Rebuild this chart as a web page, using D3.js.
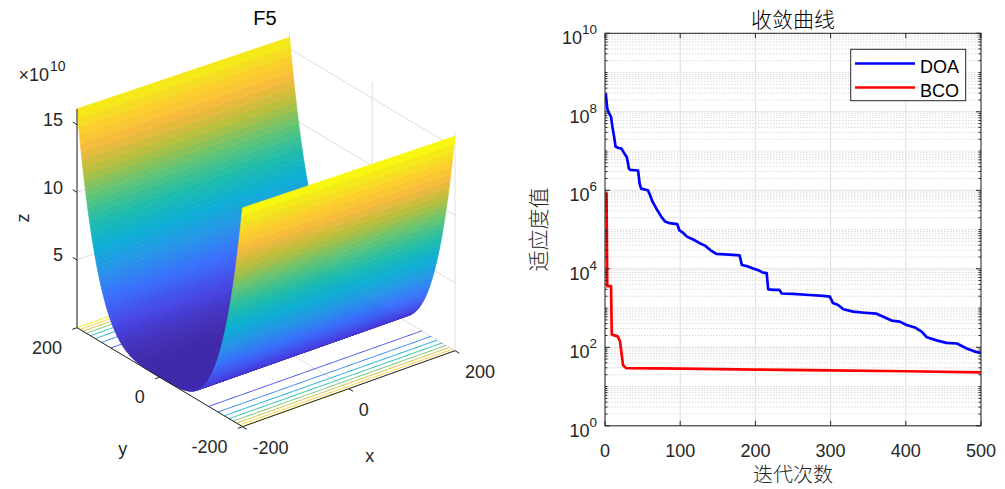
<!DOCTYPE html>
<html>
<head>
<meta charset="utf-8">
<script src="https://cdn.jsdelivr.net/npm/d3@7"></script>
<style>
  html, body { margin: 0; padding: 0; background: #fff; }
  svg { display: block; font-family: "Liberation Sans", Arial, Helvetica, sans-serif; }
</style>
</head>
<body>
<svg id="chart" width="1005" height="489"></svg>
<script>
// ---------------- data ----------------

// F5 surface: grid used by surfc (x=-200:2:200, y=x)
var surfX = d3.range(-200, 201, 2);
var surfY = d3.range(-200, 201, 2);
var gridTicks3d = [-200, 0, 200];
var zTicks = [5e10, 10e10, 15e10];
var zTickLabels = ['5', '10', '15'];
var contourLevels = [2e10, 4e10, 6e10, 8e10, 10e10, 12e10, 14e10, 16e10];

// F5 (Rosenbrock), f(i,j)=F5([x(i),y(j)]) shown by surfc(x,y,f) -> z(X,Y)=F5(Y,X)
function F5(x1, x2) { return 100 * Math.pow(x2 - x1 * x1, 2) + Math.pow(x1 - 1, 2); }
function zAt(X, Y) { return F5(Y, X); }

// convergence curves
var iterTicks = [0, 100, 200, 300, 400, 500];
var fitTickExp = [0, 2, 4, 6, 8, 10];
var seriesNames = ['DOA', 'BCO'];

var doaIter = [1, 3, 5, 8, 10, 12, 14, 18, 22, 26, 29, 32, 34, 44, 46, 48, 57, 60, 63, 68, 75, 80, 86, 96, 99,
  104, 109, 118, 126, 133, 140, 148, 165, 179, 182, 190, 197, 205, 210, 215, 217, 225, 232, 235, 250, 272, 290,
  299, 303, 310, 317, 330, 345, 361, 370, 381, 392, 401, 412, 421, 428, 441, 454, 468, 481, 490, 500];
var doaFit = [2.9e8, 1.2e8, 9.5e7, 7.4e7, 4.0e7, 2.4e7, 1.3e7, 1.2e7, 1.15e7, 8.5e6, 7.0e6, 3.5e6, 3.3e6, 3.2e6,
  1.5e6, 1.1e6, 1.0e6, 7.5e5, 5.2e5, 3.5e5, 2.1e5, 1.6e5, 1.45e5, 1.38e5, 9.5e4,
  8.2e4, 6.6e4, 5.5e4, 4.5e4, 3.9e4, 3.0e4, 2.4e4, 2.3e4, 2.2e4, 1.25e4, 1.15e4, 1.02e4, 9.0e3, 8.0e3, 7.8e3,
  3.0e3, 2.9e3, 2.9e3, 2.35e3, 2.3e3, 2.15e3, 2.05e3,
  1.95e3, 1.35e3, 1.2e3, 930, 810, 760, 720, 600, 480, 450, 370, 320, 250, 180, 150, 130, 125, 93, 80, 71];

var bcoIter = [1, 2, 3, 8, 9, 17, 20, 24, 28, 100, 200, 300, 400, 500];
var bcoFit = [8.3e5, 8.3e5, 3.6e3, 3.6e3, 2.1e2, 1.9e2, 1.4e2, 35, 29.5, 28.5, 27, 25.7, 24.5, 23];

// ---------------- styles ----------------
var axisColor = '#262626';
var gridColor = '#dfdfdf';
var seriesColors = ['#0000ff', '#ff0000'];
var parulaStops = [0, 0.1, 0.2, 0.3, 0.4, 0.5, 0.6, 0.7, 0.8, 0.87, 0.94, 1];
var parulaColors = ['#3e26a8', '#4745e6', '#3a6ffc', '#2795e8', '#0db0d4', '#20bdaa', '#5fc577',
  '#b4bf3e', '#f8ba3d', '#fcce2e', '#f4e51d', '#f9fb0e'];

var svg = d3.select('#chart');

//--- F5 surface (left) ---------------------------------------------------------------

var left = svg.append('g').attr('id', 'surfPlot');

var zGrid = surfY.map(function (Y) { return surfX.map(function (X) { return zAt(X, Y); }); });
var zMin = d3.min(zGrid, function (r) { return d3.min(r); });
var zMax = d3.max(zGrid, function (r) { return d3.max(r); });

var sx = d3.scaleLinear().domain([-200, 200]).range([0, 1]);
var sy = d3.scaleLinear().domain([-200, 200]).range([0, 1]);
var sz = d3.scaleLinear().domain([zMin, zMax]).range([0, 1]);

// screen vectors of the box edges (az -37.5, el 30 view)
var P0 = [242.5, 426.7], EX = [212.5, -76], EY = [-165.5, -99], EZ = [0, -218.8];

function projN(a, b, c) {
    return [P0[0] + a * EX[0] + b * EY[0] + c * EZ[0], P0[1] + a * EX[1] + b * EY[1] + c * EZ[1]];
}
function proj(X, Y, Z) { return projN(sx(X), sy(Y), sz(Z)); }

// view direction = kernel of the projection, pointing to the camera (above)
var r1 = [EX[0], EY[0], EZ[0]], r2 = [EX[1], EY[1], EZ[1]];
var kv = [r1[1] * r2[2] - r1[2] * r2[1], r1[2] * r2[0] - r1[0] * r2[2], r1[0] * r2[1] - r1[1] * r2[0]];
if (kv[2] < 0) { kv = kv.map(function (d) { return -d; }); }
function camDepth(a, b, c) { return kv[0] * a + kv[1] * b + kv[2] * c; }

var cnorm = d3.scaleLinear().domain([zMin, zMax]).range([0, 1]).clamp(true);
var parula = d3.scaleLinear().domain(parulaStops).range(parulaColors).interpolate(d3.interpolateRgb);

var line2 = d3.line();

function seg(p, q, col, w, dash) {
    left.append('line')
        .attr('x1', p[0]).attr('y1', p[1]).attr('x2', q[0]).attr('y2', q[1])
        .attr('stroke', col).attr('stroke-width', w || 1)
        .attr('stroke-dasharray', dash || null);
}

// back walls + floor grid
gridTicks3d.forEach(function (t) {
    // floor
    seg(proj(t, -200, zMin), proj(t, 200, zMin), gridColor);
    seg(proj(-200, t, zMin), proj(200, t, zMin), gridColor);
    // wall y = 200 (vertical lines at x ticks)
    seg(proj(t, 200, zMin), proj(t, 200, zMax), gridColor);
    // wall x = 200 (vertical lines at y ticks)
    seg(proj(200, t, zMin), proj(200, t, zMax), gridColor);
});
zTicks.forEach(function (z) {
    seg(proj(-200, 200, z), proj(200, 200, z), gridColor);
    seg(proj(200, 200, z), proj(200, -200, z), gridColor);
});

// floor contours
contourLevels.forEach(function (L) {
    [-1, 1].forEach(function (s) {
        var pts = [];
        surfX.forEach(function (X) {
            var Y = s * Math.sqrt(X + Math.sqrt(L / 100));
            for (var it = 0; it < 3; it++) {
                Y = s * Math.sqrt(X + Math.sqrt((L - Math.pow(Y - 1, 2)) / 100));
            }
            if (Math.abs(Y) <= 200) { pts.push(proj(X, Y, zMin)); }
        });
        if (pts.length > 1) {
            left.append('path')
                .attr('d', line2(pts))
                .attr('fill', 'none')
                .attr('stroke', parula(cnorm(L)))
                .attr('stroke-width', 1);
        }
    });
});

// surface strips, painter's order
var xSamp = surfX.filter(function (d, i) { return i % 10 === 0; });
var strips = [];
for (var i = 0; i < surfY.length - 1; i++) {
    var y0 = surfY[i], y1 = surfY[i + 1];
    var pts = xSamp.map(function (X) { return proj(X, y0, zAt(X, y0)); })
        .concat(xSamp.slice().reverse().map(function (X) { return proj(X, y1, zAt(X, y1)); }));
    var cz = (zAt(-200, y0) + zAt(200, y0) + zAt(-200, y1) + zAt(200, y1)) / 4;
    strips.push({
        pts: pts,
        color: parula(cnorm(zAt(0, y0))),
        depth: camDepth(0.5, sy((y0 + y1) / 2), sz(cz))
    });
}
strips.sort(function (a, b) { return a.depth - b.depth; });

left.append('g').attr('class', 'surface')
    .selectAll('path').data(strips).enter().append('path')
    .attr('d', function (d) { return line2(d.pts) + 'Z'; })
    .attr('fill', function (d) { return d.color; })
    .attr('stroke', function (d) { return d.color; })
    .attr('stroke-width', 0.7)
    .attr('stroke-linejoin', 'round');

// axes lines + ticks
function unit(v) { var l = Math.sqrt(v[0] * v[0] + v[1] * v[1]); return [v[0] / l, v[1] / l]; }
var uX = unit(EX), uY = unit(EY);
var tickLen = 5;

seg(proj(-200, -200, zMin), proj(200, -200, zMin), axisColor);
seg(proj(-200, -200, zMin), proj(-200, 200, zMin), axisColor);
seg(proj(-200, 200, zMin), proj(-200, 200, zMax), axisColor);

var lab = left.append('g').attr('fill', axisColor).style('font-size', '18px');

gridTicks3d.forEach(function (t) {
    // x axis
    var p = proj(t, -200, zMin);
    seg(p, [p[0] - uY[0] * tickLen, p[1] - uY[1] * tickLen], axisColor);
    lab.append('text').attr('x', p[0] + 10).attr('y', p[1] + 27.4).text(t);
    // y axis
    var q = proj(-200, t, zMin);
    seg(q, [q[0] - uX[0] * tickLen, q[1] - uX[1] * tickLen], axisColor);
    lab.append('text').attr('x', q[0] - 15).attr('y', q[1] + 26).attr('text-anchor', 'end').text(t);
});
zTicks.forEach(function (z, k) {
    var p = proj(-200, 200, z);
    seg(p, [p[0] + uY[0] * tickLen, p[1] + uY[1] * tickLen], axisColor);
    lab.append('text').attr('x', p[0] - 14).attr('y', p[1] + 1.4).attr('text-anchor', 'end').text(zTickLabels[k]);
});

// axis labels
var xm = proj(0, -200, zMin), ym = proj(-200, 0, zMin);
lab.append('text').attr('x', xm[0] + 21).attr('y', xm[1] + 73).attr('text-anchor', 'middle').text('x');
lab.append('text').attr('x', ym[0] - 37).attr('y', ym[1] + 77.6).attr('text-anchor', 'middle').text('y');
lab.append('text').attr('transform', 'translate(28.5,218) rotate(-90)').attr('text-anchor', 'middle').text('z');

var mult = lab.append('text').attr('x', 18.5).attr('y', 81);
mult.append('tspan').text('\u00d710');
mult.append('tspan').attr('dy', -10).attr('dx', 1).style('font-size', '14px').text('10');

left.append('text')
    .attr('x', 265).attr('y', 25)
    .attr('text-anchor', 'middle')
    .style('font-size', '20px')
    .attr('fill', '#000')
    .text('F5');

//--- convergence curves (right) ------------------------------------------------------

var right = svg.append('g').attr('id', 'convPlot');
var plotL = 605, plotR = 981, plotT = 33.3, plotB = 425.8;

var x = d3.scaleLinear().domain([0, 500]).range([plotL, plotR]);
var y = d3.scaleLog().domain([1, 1e10]).range([plotB, plotT]);

// minor grid (dotted)
var minorVals = [];
d3.range(0, 10).forEach(function (d) {
    d3.range(2, 10).forEach(function (k) { minorVals.push(k * Math.pow(10, d)); });
    if (d % 2 === 1) { minorVals.push(Math.pow(10, d)); }
});
right.append('g').selectAll('line').data(minorVals).enter().append('line')
    .attr('x1', plotL).attr('x2', plotR)
    .attr('y1', function (d) { return y(d); }).attr('y2', function (d) { return y(d); })
    .attr('stroke', '#d2d2d2').attr('stroke-width', 0.8).attr('stroke-dasharray', '1.5,1.5');

// major grid
right.append('g').selectAll('line').data(fitTickExp).enter().append('line')
    .attr('x1', plotL).attr('x2', plotR)
    .attr('y1', function (d) { return y(Math.pow(10, d)); }).attr('y2', function (d) { return y(Math.pow(10, d)); })
    .attr('stroke', gridColor).attr('stroke-width', 1);
right.append('g').selectAll('line').data(iterTicks).enter().append('line')
    .attr('y1', plotT).attr('y2', plotB)
    .attr('x1', function (d) { return x(d); }).attr('x2', function (d) { return x(d); })
    .attr('stroke', gridColor).attr('stroke-width', 1);

// curves
var curve = d3.line()
    .x(function (d) { return x(d[0]); })
    .y(function (d) { return y(d[1]); });

var seriesData = [
    d3.zip(doaIter, doaFit),
    d3.zip(bcoIter, bcoFit)
];

right.append('defs').append('clipPath').attr('id', 'clipConv')
    .append('rect').attr('x', plotL).attr('y', plotT).attr('width', plotR - plotL).attr('height', plotB - plotT);

seriesData.forEach(function (data, k) {
    right.append('path')
        .attr('d', curve(data))
        .attr('fill', 'none')
        .attr('stroke', seriesColors[k])
        .attr('stroke-width', 2.7)
        .attr('stroke-linejoin', 'round')
        .attr('clip-path', 'url(#clipConv)');
});

// ticks
var tk = right.append('g').attr('stroke', axisColor).attr('stroke-width', 1);
iterTicks.forEach(function (t) {
    tk.append('line').attr('x1', x(t)).attr('x2', x(t)).attr('y1', plotB).attr('y2', plotB - 5);
    tk.append('line').attr('x1', x(t)).attr('x2', x(t)).attr('y1', plotT).attr('y2', plotT + 5);
});
fitTickExp.forEach(function (e) {
    var v = y(Math.pow(10, e));
    tk.append('line').attr('x1', plotL).attr('x2', plotL + 5).attr('y1', v).attr('y2', v);
    tk.append('line').attr('x1', plotR).attr('x2', plotR - 5).attr('y1', v).attr('y2', v);
});
minorVals.forEach(function (m) {
    var v = y(m);
    tk.append('line').attr('x1', plotL).attr('x2', plotL + 2.5).attr('y1', v).attr('y2', v);
    tk.append('line').attr('x1', plotR).attr('x2', plotR - 2.5).attr('y1', v).attr('y2', v);
});

// box
right.append('rect')
    .attr('x', plotL).attr('y', plotT).attr('width', plotR - plotL).attr('height', plotB - plotT)
    .attr('fill', 'none').attr('stroke', axisColor).attr('stroke-width', 1);

// tick labels
var tl = right.append('g').attr('fill', axisColor).style('font-size', '18px');
iterTicks.forEach(function (t) {
    tl.append('text').attr('x', x(t)).attr('y', 456.5).attr('text-anchor', 'middle').text(t);
});
fitTickExp.forEach(function (e) {
    var txt = tl.append('text').attr('x', 597).attr('y', y(Math.pow(10, e)) + 11).attr('text-anchor', 'end');
    txt.append('tspan').text('10');
    txt.append('tspan').attr('dy', -10).style('font-size', '13.5px').text(e);
});

// titles
var cjk = '"Noto Sans CJK SC", "Noto Sans", sans-serif';
right.append('text')
    .attr('x', (plotL + plotR) / 2).attr('y', 26.5)
    .attr('text-anchor', 'middle')
    .style('font-family', cjk).style('font-size', '21px').style('font-weight', 300)
    .attr('fill', '#000')
    .text('收敛曲线');
right.append('text')
    .attr('x', (plotL + plotR) / 2).attr('y', 481.5)
    .attr('text-anchor', 'middle')
    .style('font-family', cjk).style('font-size', '20px').style('font-weight', 300)
    .attr('fill', axisColor)
    .text('迭代次数');
right.append('text')
    .attr('transform', 'translate(536.5,' + ((plotT + plotB) / 2) + ') rotate(-90)')
    .attr('text-anchor', 'middle')
    .attr('dominant-baseline', 'central')
    .style('font-family', cjk).style('font-size', '21px').style('font-weight', 300)
    .attr('fill', axisColor)
    .text('适应度值');

// legend
var lg = right.append('g').attr('id', 'legend');
lg.append('rect')
    .attr('x', 850.7).attr('y', 49.3).attr('width', 115).attr('height', 51.4)
    .attr('fill', '#fff').attr('stroke', axisColor).attr('stroke-width', 1);
seriesNames.forEach(function (name, k) {
    var ly = 63.5 + k * 24;
    lg.append('line')
        .attr('x1', 855).attr('x2', 915).attr('y1', ly).attr('y2', ly)
        .attr('stroke', seriesColors[k]).attr('stroke-width', 2.7);
    lg.append('text')
        .attr('x', 920).attr('y', ly + 9.5)
        .style('font-size', '18px').attr('fill', '#000')
        .text(name);
});
</script>
</body>
</html>
